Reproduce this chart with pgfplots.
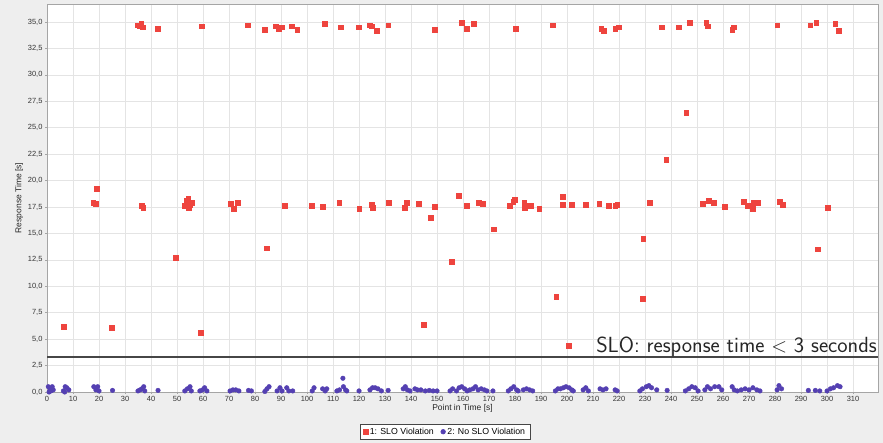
\documentclass[border=0pt]{standalone}
\usepackage{fontspec}
\setmainfont{Liberation Sans}
\usepackage{pgfplots}
\pgfplotsset{compat=1.18}

\definecolor{bggray}{RGB}{238,238,238}
\definecolor{gridgray}{RGB}{228,228,228}
\definecolor{framegray}{RGB}{165,165,165}
\definecolor{slored}{RGB}{238,68,62}
\definecolor{okblue}{RGB}{84,64,178}
\definecolor{slogray}{RGB}{70,70,70}

\begin{document}
\begin{tikzpicture}[x=1bp,y=1bp]
\path[use as bounding box, fill=bggray] (0,0) rectangle (883,443);
\begin{axis}[
  scale only axis,
  width=831bp, height=388bp,
  at={(47bp,51bp)}, anchor=south west,
  xmin=0, xmax=319.6,
  ymin=0, ymax=36.7,
  xtick={0,10,...,310},
  ytick={0,2.5,...,35},
  /pgf/number format/.cd, fixed, fixed zerofill, precision=1, use comma, assume math mode=true,
  /pgfplots/.cd,
  xticklabel={\pgfmathprintnumber[fixed,precision=0,assume math mode=true]{\tick}},
  grid=major,
  major grid style={gridgray, line width=0.6bp},
  axis line style={framegray, line width=0.8bp},
  axis background/.style={fill=white},
  tick align=outside,
  major tick length=2bp,
  tick style={framegray, line width=0.5bp},
  tick pos=left,
  ticklabel style={font=\fontsize{7.5}{8}\selectfont, text=black!80},
  xticklabel style={yshift=1bp},
  yticklabel style={xshift=1bp},
  xlabel={Point in Time [s]},
  ylabel={Response Time [s]},
  label style={font=\fontsize{8.5}{9}\selectfont, text=black!85},
  xlabel style={yshift=4bp},
  ylabel style={yshift=-2bp},
  legend columns=2,
  legend style={at={(0.479,-0.0825)}, anchor=north, draw=slogray, line width=0.6bp,
    fill=white, font=\fontsize{8.8}{9}\selectfont, inner xsep=3bp, inner ysep=1.5bp,
    /tikz/every even column/.append style={column sep=5bp}},
  legend cell align=left,
]
% requests above the 3 s objective
\addplot[only marks, mark=square*, mark size=2.4bp, color=slored] coordinates {
 (35.0,34.7) (35.8,34.6) (36.9,34.5) (36.2,34.8) (42.7,34.4) (59.6,34.6)
 (77.3,34.7) (83.8,34.3) (88.1,34.6) (89.2,34.4) (90.4,34.5) (94.2,34.6)
 (96.2,34.3) (106.9,34.8) (113.1,34.5) (120.0,34.5) (124.2,34.7) (125.0,34.6)
 (126.9,34.2) (131.2,34.7) (149.2,34.3) (159.6,34.9) (161.5,34.4) (164.2,34.8)
 (180.4,34.4) (194.6,34.7) (213.1,34.4) (214.2,34.2) (218.5,34.4) (220.0,34.5)
 (236.5,34.5) (243.0,34.5) (247.3,34.9) (253.5,34.9) (254.2,34.6) (263.5,34.3)
 (264.2,34.5) (280.8,34.7) (293.5,34.7) (295.8,34.9) (303.1,34.8) (304.6,34.2)
 (245.8,26.4) (238.1,22.0)
 (17.8,17.9) (18.8,17.8) (19.1,19.2) (36.5,17.6) (37.0,17.4)
 (53.0,17.6) (53.8,18.1) (54.3,18.3) (55.0,17.7) (55.5,17.9) (54.5,17.4) (54.0,17.8)
 (70.6,17.8) (71.7,17.3) (73.3,17.9) (91.3,17.6) (101.8,17.6) (106.0,17.5)
 (112.4,17.9) (120.1,17.3) (124.9,17.7) (125.3,17.4) (131.3,17.9) (137.7,17.4)
 (138.3,17.9) (143.1,17.8) (147.6,16.5) (149.2,17.5) (158.2,18.6)
 (161.4,17.6) (165.9,17.9) (167.6,17.8) (178.1,17.6) (179.3,18.0) (180.0,18.2)
 (183.5,17.9) (183.8,17.4) (185.1,17.6) (186.0,17.6) (189.3,17.3) (198.2,18.5)
 (198.2,17.7) (201.9,17.7) (207.3,17.7) (212.4,17.8) (215.9,17.6) (218.5,17.6)
 (219.3,17.7) (231.7,17.9) (252.2,17.8) (254.6,18.1) (256.5,17.9) (260.5,17.5)
 (267.8,18.0) (269.4,17.6) (271.3,17.3) (271.9,17.9) (273.3,17.9) (281.9,18.0)
 (282.8,17.7) (300.3,17.4)
 (6.3,6.2) (25.0,6.1) (49.5,12.7) (59.1,5.6) (84.5,13.6)
 (171.9,15.4) (155.6,12.3) (195.8,9.05) (145.0,6.4) (200.6,4.35)
 (229.3,14.5) (229.0,8.8) (296.4,13.5)
};
\addlegendentry{1: SLO Violation}
% requests within the objective
\addplot[only marks, mark=*, mark size=2.3bp, color=okblue] coordinates {
 (0.5,0.5) (1.2,0.3) (2,0.5) (1.5,0.1) (0.8,0) (2.4,0.2)
 (6.3,0.1) (7,0.5) (7.6,0.4) (8.4,0.2) (6.8,0)
 (18,0.5) (18.8,0.2) (19.5,0.5) (20,0.1)
 (25.2,0.15)
 (35,0.1) (35.8,0.2) (36.5,0.3) (37.2,0.5) (37.6,0.1)
 (42.7,0.15)
 (53,0.1) (54,0.3) (55,0.5) (55.5,0.1)
 (58.8,0.1) (59.8,0.2) (60.6,0.4) (61.5,0.1)
 (70.4,0.1) (71.5,0.2) (72.6,0.2) (73.8,0.1)
 (77.5,0.15) (78.6,0.1)
 (83.8,0.05) (84.6,0.3) (85.4,0.5)
 (88.5,0.1) (89.6,0.4) (90.4,0.1) (92.2,0.4) (93,0.1) (94.5,0.1)
 (102,0.1) (102.7,0.4) (106,0.3) (107,0.1) (107.6,0.3)
 (111.5,0.1) (112.5,0.2) (113.8,1.3) (114,0.5) (114.8,0.2) (115.3,0.1)
 (120,0.1)
 (124.2,0.2) (125.2,0.4) (126.2,0.4) (127.3,0.3) (128.6,0.1)
 (131.2,0.15)
 (137,0.3) (137.8,0.5) (138.6,0.2) (139.6,0.1)
 (141.5,0.3) (142.5,0.2) (143.8,0.2) (145.5,0.1) (147,0.15) (148.5,0.1) (150,0.1)
 (155,0.1) (156,0.3) (157.5,0.1) (158.5,0.4) (159.5,0.5) (160.6,0.3) (161.6,0.1) (162.6,0.2)
 (163.8,0.3) (164.8,0.5) (165.8,0.2) (167,0.3) (168.2,0.2) (169.2,0.1)
 (171.5,0.1)
 (177.4,0.1) (178.4,0.3) (179.5,0.5) (180.6,0.2) (181.2,0.1)
 (183.2,0.2) (184.4,0.3) (185.6,0.2) (186.8,0.1)
 (195.5,0.1) (196.5,0.3) (197.5,0.3) (198.6,0.4) (199.6,0.5) (200.8,0.4) (201.8,0.2) (202.4,0.1)
 (206.2,0.2) (207.2,0.4) (208.2,0.1)
 (212.7,0.3) (213.8,0.2) (215,0.3)
 (218.5,0.2) (219.3,0.1)
 (228,0.1) (229,0.3) (230.5,0.5) (231.5,0.6) (232.5,0.4) (234.5,0.2)
 (238.5,0.15)
 (245.5,0.1) (246.8,0.3) (248,0.5) (249.3,0.4) (250.4,0.1)
 (253,0.2) (254,0.5) (255.2,0.3) (256.8,0.5) (258.4,0.5) (259.5,0.2)
 (263.5,0.5) (264.3,0.2) (265.5,0.1) (267,0.2) (268.5,0.3) (270,0.2) (271.5,0.4) (273,0.2) (274.2,0.1)
 (280.8,0.2) (281.5,0.6) (282.5,0.3)
 (292.8,0.15) (295.5,0.15) (297.2,0.1)
 (300,0.1) (301.3,0.3) (302.5,0.4) (304,0.6) (305,0.5)
};
\addlegendentry{2: No SLO Violation}
% service level objective threshold
\addplot[forget plot, slogray, line width=1.6bp] coordinates {(0,3.33) (319.6,3.33)};
\node[anchor=base east, inner sep=0pt, font=\sffamily\fontsize{22}{25}\selectfont, text=black!85]
  at (axis cs:319.2,3.75) {SLO: response time $<$ 3 seconds};
\end{axis}
\end{tikzpicture}
\end{document}
